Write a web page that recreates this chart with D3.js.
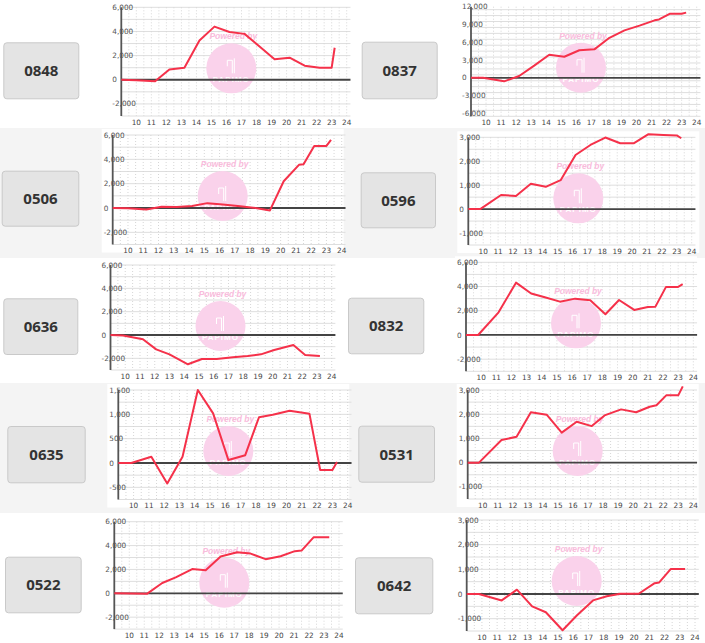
<!DOCTYPE html>
<html><head><meta charset="utf-8">
<script src="https://cdn.jsdelivr.net/npm/d3@7/dist/d3.min.js"></script>
<style>body{margin:0;background:#fff}svg{display:block}</style>
</head><body>
<svg id="c" width="705" height="643"></svg>
<script>
// ---- data ----
const codes = ["0848","0837","0506","0596","0636","0832","0635","0531","0522","0642"];
const hourTicks = [10,11,12,13,14,15,16,17,18,19,20,21,22,23,24];
const ticksA = [-2000,0,2000,4000,6000];
const ticksB = [-6000,-3000,0,3000,6000,9000,12000];
const ticksC = [-1000,0,1000,2000,3000];
const ticksD = [-500,0,500,1000,1500];

const t0848 = [9,10,11.25,12.2,13.2,14.2,15.2,16.2,17.2,18.2,19.2,20.2,21.2,22.2,23.0,23.2];
const v0848 = [0,-30,-120,850,1000,3250,4400,3950,3800,2750,1700,1830,1170,1000,1000,2650];
const t0837 = [9,9.8,11.2,12.2,13.2,14.2,15.2,16.2,17.2,18.2,19.2,20.2,21.2,21.5,22.2,23.0,23.3];
const v0837 = [0,0,-600,300,2050,3900,3550,4650,4800,6750,8000,8800,9700,9850,10800,10800,11000];
const t0506 = [9,10,11.2,12.2,13.2,14.2,15.2,16.2,17.2,18.2,19.3,20.2,21.2,21.5,22.2,23.0,23.3];
const v0506 = [0,-30,-130,100,80,160,400,280,170,30,-200,2200,3550,3600,5100,5100,5600];
const t0596 = [9,9.8,11.2,12.2,13.2,14.2,15.2,16.2,17.2,18.2,19.2,20.1,21.1,22.1,23.0,23.3];
const v0596 = [0,0,590,550,1060,930,1210,2260,2680,2990,2750,2750,3130,3100,3080,2960];
const t0636 = [9,9.85,11.2,12.1,13.0,14.25,15.2,16.2,17.3,18.3,19.2,20.1,21.4,22.2,23.2];
const v0636 = [0,-50,-370,-1230,-1660,-2510,-2060,-2060,-1900,-1800,-1660,-1290,-860,-1710,-1800];
const t0832 = [9,9.8,11.15,12.3,13.3,14.2,15.2,16.2,17.2,18.2,19.1,20.1,21.0,21.5,22.2,23.0,23.3];
const v0832 = [0,0,1870,4320,3420,3110,2750,3000,2860,1710,2890,2070,2310,2340,3970,3970,4190];
const t0635 = [9,9.85,11.16,12.2,13.2,14.2,15.2,16.2,17.3,18.2,19.1,20.2,21.5,22.2,23.0,23.3];
const v0635 = [0,0,130,-420,130,1500,1020,60,160,940,990,1075,1010,-145,-145,20];
const t0531 = [9,9.75,11.25,12.25,13.2,14.25,15.25,16.25,17.25,18.1,19.2,20.2,21.1,21.55,22.2,23.0,23.3];
const v0531 = [0,0,935,1070,2080,1980,1240,1690,1510,1950,2200,2080,2310,2370,2780,2780,3150];
const t0522 = [9,11.2,12.2,13.1,14.2,15.1,16.1,17.2,18.1,19.1,20.1,21.05,21.5,22.3,23.35];
const v0522 = [0,-30,860,1330,2030,1940,3080,3440,3330,2860,3110,3530,3580,4690,4690];
const t0642 = [9,9.8,11.3,12.3,13.3,14.2,15.3,16.25,17.3,18.2,19.1,20.3,21.35,21.65,22.4,23.35];
const v0642 = [0,0,-260,175,-500,-740,-1470,-860,-260,-90,10,10,440,470,1010,1010];

const times = [t0848,t0837,t0506,t0596,t0636,t0832,t0635,t0531,t0522,t0642];
const values = [v0848,v0837,v0506,v0596,v0636,v0832,v0635,v0531,v0522,v0642];
const tickSets = [ticksA,ticksB,ticksA,ticksC,ticksA,ticksA,ticksD,ticksC,ticksA,ticksC];

// ---- layout (positions/styles) ----
const scaleCfg = {
  A:{dom:[-3000,6000], minor:1000},
  B:{dom:[-6500,12000], minor:1000},
  C:{dom:[-1500,3000], minor:500},
  D:{dom:[-750,1500], minor:250}
};
const kinds = ["A","B","A","C","A","A","D","C","A","C"];
const layout = [
  {ax:121.3, x24:346.7, ry:[116,7.3],    btn:[3.3,42.3,76,57]},
  {ax:471,   x24:696.7, ry:[116.3,6.7],  btn:[361.7,41.7,76,57.6]},
  {ax:112.7, x24:341.7, ry:[244.5,135],  btn:[1.7,170.7,77.6,56]},
  {ax:468.3, x24:691.7, ry:[245,137.3],  btn:[360.7,172.3,75.3,56]},
  {ax:110.5, x24:331.7, ry:[370,265],    btn:[3.3,298.3,75,56.7]},
  {ax:466,   x24:693.3, ry:[371.3,262.3],btn:[348,297.7,76.3,56.6]},
  {ax:118.3, x24:347.7, ry:[499.5,390],  btn:[7.3,426,78.4,57.3]},
  {ax:467.7, x24:693.3, ry:[499,390],    btn:[358.3,425.7,76.7,57]},
  {ax:114.3, x24:339,   ry:[629.1,521.7],btn:[5,556.7,76.7,56.6]},
  {ax:466.7, x24:695,   ry:[631,520],    btn:[355,557.3,78.3,57]}
];
const rows = [[0,128,"#ffffff"],[128,258,"#f4f4f4"],[258,383,"#ffffff"],[383,513,"#f4f4f4"],[513,643,"#ffffff"]];

const svg = d3.select("#c");
svg.selectAll("rect.row").data(rows).join("rect").attr("class","row")
  .attr("x",0).attr("y",d=>d[0]).attr("width",705).attr("height",d=>d[1]-d[0]).attr("fill",d=>d[2]);

codes.forEach((code,i)=>{
  const L = layout[i], cfg = scaleCfg[kinds[i]];
  const x = d3.scaleLinear().domain([9,24]).range([L.ax, L.x24]);
  const y = d3.scaleLinear().domain(cfg.dom).range(L.ry);
  const g = svg.append("g");
  const xr = x(24.25);
  const yTop = y(tickSets[i][tickSets[i].length-1]), yBot = y(cfg.dom[0]);
  // chart image background
  g.append("rect").attr("x",L.ax-11).attr("y",yTop-6).attr("width",242).attr("height",yBot-yTop+14).attr("fill","#fff");
  // minor horizontal grid
  const hg = d3.range(cfg.dom[0], tickSets[i][tickSets[i].length-1]+1, cfg.minor);
  g.selectAll("line.hg").data(hg).join("line")
    .attr("x1",L.ax).attr("x2",xr).attr("y1",d=>y(d)).attr("y2",d=>y(d))
    .attr("stroke","#dedede").attr("stroke-width",1);
  // vertical dotted grid
  const vg = d3.range(9.5, 24.01, 0.5);
  g.selectAll("line.vg").data(vg).join("line")
    .attr("x1",d=>x(d)).attr("x2",d=>x(d)).attr("y1",yTop).attr("y2",yBot)
    .attr("stroke","#d6d6d6").attr("stroke-width",1).attr("stroke-dasharray","1,2");
  // watermark
  const cx = L.ax+110, cy = yTop+61;
  g.append("circle").attr("cx",cx).attr("cy",cy).attr("r",25).attr("fill","#fad2eb");
  g.append("text").attr("x",cx+2).attr("y",yTop+32).attr("text-anchor","middle")
    .attr("font-family","Liberation Sans, Arial, sans-serif").attr("font-size",8.5).attr("font-weight","bold").attr("font-style","italic")
    .attr("fill","#f9bcdc").text("Powered by");
  g.append("path").attr("d",`M${cx-4},${cy-8}h5v13M${cx-4},${cy-8}v6M${cx+3},${cy-10}v15`)
    .attr("stroke","#fff").attr("stroke-width",1).attr("fill","none");
  g.append("text").attr("x",cx).attr("y",cy+14).attr("text-anchor","middle")
    .attr("font-family","Liberation Sans, Arial, sans-serif").attr("font-size",8).attr("font-weight","bold").attr("letter-spacing",1)
    .attr("fill","#fff").text("PAPIMO");
  // y tick labels
  g.selectAll("text.yl").data(tickSets[i]).join("text")
    .attr("x",L.ax-9).attr("y",d=>y(d)).attr("dy","0.35em")
    .attr("font-family","DejaVu Sans, sans-serif").attr("font-size",7.3).attr("fill","#555")
    .text(d=>d3.format(",")(d).replace("−","-"));
  // x tick labels
  g.selectAll("text.xl").data(hourTicks).join("text")
    .attr("x",d=>x(d)).attr("y",yBot+6).attr("dy","0.35em").attr("text-anchor","middle")
    .attr("font-family","DejaVu Sans, sans-serif").attr("font-size",7.3).attr("fill","#444")
    .text(d=>d);
  // zero line
  g.append("line").attr("x1",L.ax).attr("x2",xr).attr("y1",y(0)).attr("y2",y(0))
    .attr("stroke","#444").attr("stroke-width",1.8);
  // y axis
  g.append("line").attr("x1",L.ax).attr("x2",L.ax).attr("y1",yTop).attr("y2",yBot)
    .attr("stroke","#555").attr("stroke-width",1.8);
  // series line
  const pts = times[i].map((t,k)=>[t, values[i][k]]);
  g.append("path").datum(pts)
    .attr("d", d3.line().x(d=>x(d[0])).y(d=>y(d[1])))
    .attr("fill","none").attr("stroke","#f5314a").attr("stroke-width",2).attr("stroke-linejoin","round");
  // button
  const b = L.btn;
  g.append("rect").attr("x",b[0]+0.5).attr("y",b[1]+0.5).attr("width",b[2]-1).attr("height",b[3]-1).attr("rx",3)
    .attr("fill","#e4e4e4").attr("stroke","#c9c9c9");
  g.append("text").attr("x",b[0]+b[2]/2).attr("y",b[1]+b[3]/2).attr("dy","0.36em").attr("text-anchor","middle")
    .attr("font-family","Open Sans, Noto Sans, sans-serif").attr("font-weight","bold").attr("font-size",15)
    .attr("fill","#333").text(code);
});
</script>
</body></html>
